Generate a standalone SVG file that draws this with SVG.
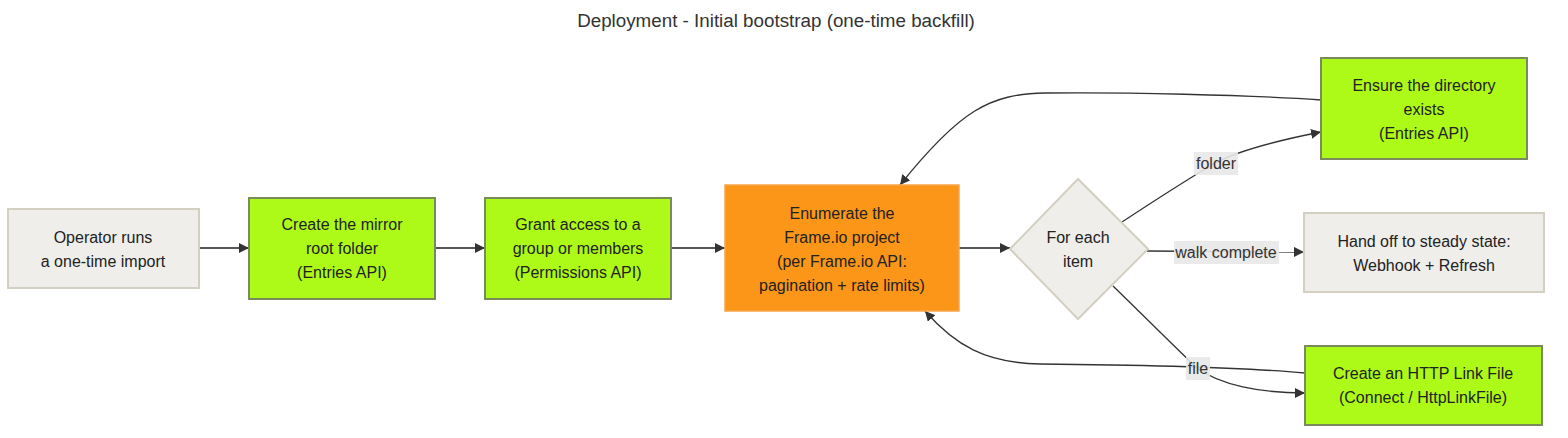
<svg xmlns="http://www.w3.org/2000/svg" width="1568" height="438" viewBox="0 0 1568 438">
<defs>
<marker id="arr" viewBox="0 0 10 10" refX="10" refY="5" markerWidth="10" markerHeight="10" markerUnits="userSpaceOnUse" orient="auto">
<path d="M0,0 L10,5 L0,10 z" fill="#333333"/>
</marker>
<style>
text{font-family:"Liberation Sans",Arial,sans-serif;font-size:16px;fill:#222222;text-anchor:middle;dominant-baseline:central}
.title{font-size:18.8px;fill:#333333}
.grey{fill:#efeeea;stroke:#d3cfc1;stroke-width:2}
.green{fill:#adfa18;stroke:#7b8a5c;stroke-width:2}
.orange{fill:#fc9619;stroke:#f7a548;stroke-width:1.5}
.edge{fill:none;stroke:#333333;stroke-width:1.3;marker-end:url(#arr)}
.straight{fill:none;stroke:#555555;stroke-width:2;marker-end:url(#arr)}
.lbl{fill:#e8e8e8;opacity:0.9}
.lt{font-size:16px;fill:#333333}
</style>
</defs>
<rect width="1568" height="438" fill="#ffffff"/>
<text class="title" x="776" y="20">Deployment - Initial bootstrap (one-time backfill)</text>

<g id="connectors">
<path class="straight" d="M199,248 L249,248"/>
<path class="straight" d="M435,248 L485,248"/>
<path class="straight" d="M671,248 L725,248"/>
<path class="straight" d="M959,248 L1010,248"/>
<path class="edge" d="M1122,222 C1160,197 1190,178 1215,163 C1240,150 1280,140 1321,132"/>
<path class="edge" d="M1147,251 L1304,252"/>
<path class="edge" d="M1113,286 C1150,322 1180,352 1197,368 C1220,385 1260,393 1305,393"/>
<path class="edge" d="M1321,100 C1250,95 1120,92 1045,93 C990,94 960,110 900,185"/>
<path class="edge" d="M1305,373 C1250,368 1150,365 1040,364 C985,363 955,345 925,311"/>
<g id="edge-labels">
<rect class="lbl" x="1194" y="152" width="44" height="23"/>
<text class="lt" x="1216" y="163">folder</text>
<rect class="lbl" x="1174" y="241" width="105" height="23"/>
<text class="lt" x="1226" y="252">walk complete</text>
<rect class="lbl" x="1186" y="357" width="24" height="23"/>
<text class="lt" x="1198" y="368">file</text>
</g>
</g>

<g id="operator">
<rect class="grey" x="8" y="209" width="191" height="79"/>
<text x="103" y="237">Operator runs</text>
<text x="103" y="261">a one-time import</text>
</g>
<g id="create-root">
<rect class="green" x="249" y="198" width="186" height="101"/>
<text x="342" y="224">Create the mirror</text>
<text x="342" y="248">root folder</text>
<text x="342" y="272">(Entries API)</text>
</g>
<g id="grant-access">
<rect class="green" x="485" y="198" width="186" height="101"/>
<text x="578" y="224">Grant access to a</text>
<text x="578" y="248">group or members</text>
<text x="578" y="272">(Permissions API)</text>
</g>
<g id="enumerate">
<rect class="orange" x="725" y="185" width="234" height="126"/>
<text x="842" y="213">Enumerate the</text>
<text x="842" y="237">Frame.io project</text>
<text x="842" y="261">(per Frame.io API:</text>
<text x="842" y="285">pagination + rate limits)</text>
</g>
<g id="for-each">
<polygon class="grey" points="1078,179 1148,249 1078,319 1010,249"/>
<text x="1078" y="237">For each</text>
<text x="1078" y="261">item</text>
</g>
<g id="ensure-dir">
<rect class="green" x="1321" y="58" width="206" height="101"/>
<text x="1424" y="85">Ensure the directory</text>
<text x="1424" y="109">exists</text>
<text x="1424" y="133">(Entries API)</text>
</g>
<g id="hand-off">
<rect class="grey" x="1304" y="213" width="240" height="79"/>
<text x="1424" y="241">Hand off to steady state:</text>
<text x="1424" y="265">Webhook + Refresh</text>
</g>
<g id="http-link">
<rect class="green" x="1305" y="346" width="237" height="79"/>
<text x="1423" y="373">Create an HTTP Link File</text>
<text x="1423" y="397">(Connect / HttpLinkFile)</text>
</g>
</svg>
